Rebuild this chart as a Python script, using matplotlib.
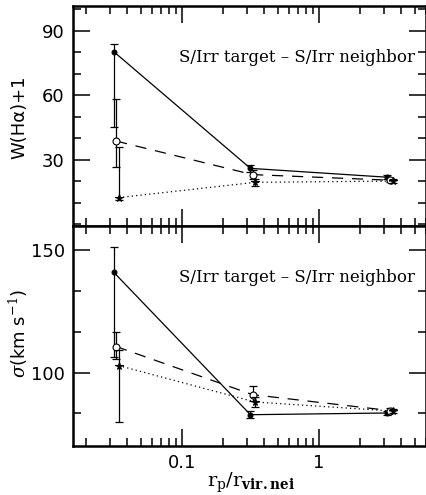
import matplotlib
matplotlib.use("Agg")
import matplotlib.pyplot as plt
from matplotlib.ticker import LogLocator, MultipleLocator, FixedLocator, NullFormatter, FuncFormatter

plt.rcParams["mathtext.fontset"] = "dejavuserif"

# ---- data ----
x_solid = [0.0317, 0.316, 3.12]
x_open = [0.0330, 0.328, 3.30]
x_star = [0.0345, 0.341, 3.47]

# top panel: W(Halpha)+1
w_solid = [80.4, 26.1, 22.0]
w_solid_lo = [35.2, 1.5, 1.0]
w_solid_hi = [3.6, 1.5, 1.0]
w_open = [38.8, 23.2, 20.6]
w_open_lo = [11.9, 2.0, 1.0]
w_open_hi = [19.6, 2.0, 1.0]
w_star = [12.5, 19.6, 20.2]
w_star_lo = [1.0, 1.5, 1.0]
w_star_hi = [23.4, 1.5, 1.0]

# bottom panel: sigma
s_solid = [141.1, 82.8, 83.5]
s_solid_lo = [34.8, 1.5, 1.0]
s_solid_hi = [10.3, 1.5, 1.0]
s_open = [110.7, 91.0, 84.5]
s_open_lo = [5.0, 2.5, 1.0]
s_open_hi = [6.0, 3.4, 1.0]
s_star = [102.9, 88.0, 84.3]
s_star_lo = [23.0, 2.0, 1.0]
s_star_hi = [6.4, 2.0, 1.0]

label_text = "S/Irr target \u2013 S/Irr neighbor"

W, H = 426, 495
fig = plt.figure(figsize=(W / 100, H / 100), dpi=100)

left = 73 / W
right = 425.5 / W
ax1 = fig.add_axes([left, 1 - 226 / H, right - left, 220 / H])
ax2 = fig.add_axes([left, 1 - 446 / H, right - left, 220 / H])


def style(ax):
    ax.set_xscale("log")
    ax.set_xlim(0.016, 6.0)
    ax.xaxis.set_major_locator(FixedLocator([0.1, 1]))
    ax.xaxis.set_minor_locator(LogLocator(base=10, subs=range(2, 10), numticks=20))
    ax.xaxis.set_minor_formatter(NullFormatter())
    ax.tick_params(which="both", direction="in", top=True, right=True, width=1.1)
    ax.tick_params(which="major", length=12, labelsize=13, pad=6)
    ax.tick_params(which="minor", length=6)
    for s in ax.spines.values():
        s.set_linewidth(1.8)


def series(ax, xs, ys, lo, hi, marker, ls, mfc, ms):
    ax.plot(xs, ys, color="black", ls=ls, lw=0.9)
    ax.errorbar(xs, ys, yerr=[lo, hi], fmt="none", ecolor="black",
                elinewidth=0.9, capsize=3, capthick=0.9)
    ax.plot(xs, ys, ls="none", marker=marker, mfc=mfc, mec="black",
            ms=ms, mew=0.8)


for ax in (ax1, ax2):
    style(ax)

series(ax1, x_solid, w_solid, w_solid_lo, w_solid_hi, "o", "-", "black", 3.5)
series(ax1, x_open, w_open, w_open_lo, w_open_hi, "o", (0, (9, 7)), "white", 5)
series(ax1, x_star, w_star, w_star_lo, w_star_hi, "*", (0, (1, 2.5)), "black", 5.5)

series(ax2, x_solid, s_solid, s_solid_lo, s_solid_hi, "o", "-", "black", 3.5)
series(ax2, x_open, s_open, s_open_lo, s_open_hi, "o", (0, (9, 7)), "white", 5)
series(ax2, x_star, s_star, s_star_lo, s_star_hi, "*", (0, (1, 2.5)), "black", 5.5)

ax1.set_ylim(-0.7, 101.6)
ax1.set_yticks([30, 60, 90])
ax1.yaxis.set_minor_locator(MultipleLocator(10))
ax1.tick_params(axis="x", labelbottom=False)

ax2.set_ylim(70, 160)
ax2.set_yticks([100, 150])
ax2.yaxis.set_minor_locator(FixedLocator([83.333, 116.667, 133.333]))
ax2.xaxis.set_major_formatter(FuncFormatter(lambda v, p: "0.1" if abs(v - 0.1) < 1e-9 else "1"))

ax1.text(0.969, 0.764, label_text, transform=ax1.transAxes, ha="right",
         va="center", fontsize=12, family="DejaVu Serif")
ax2.text(0.969, 0.768, label_text, transform=ax2.transAxes, ha="right",
         va="center", fontsize=12, family="DejaVu Serif")

fig.text(19 / W, 1 - 117 / H, "W(H\u03b1)+1", rotation=90, ha="center",
         va="center", fontsize=13)
fig.text(18 / W, 1 - 333 / H, r"$\sigma$(km s$^{-1}$)", rotation=90,
         ha="center", va="center", fontsize=13)
fig.text(251 / W, 1 - 483 / H, r"$\mathrm{r_p/r_{\mathbf{vir.nei}}}$",
         ha="center", va="center", fontsize=14)

fig.savefig("out.png", dpi=100)
